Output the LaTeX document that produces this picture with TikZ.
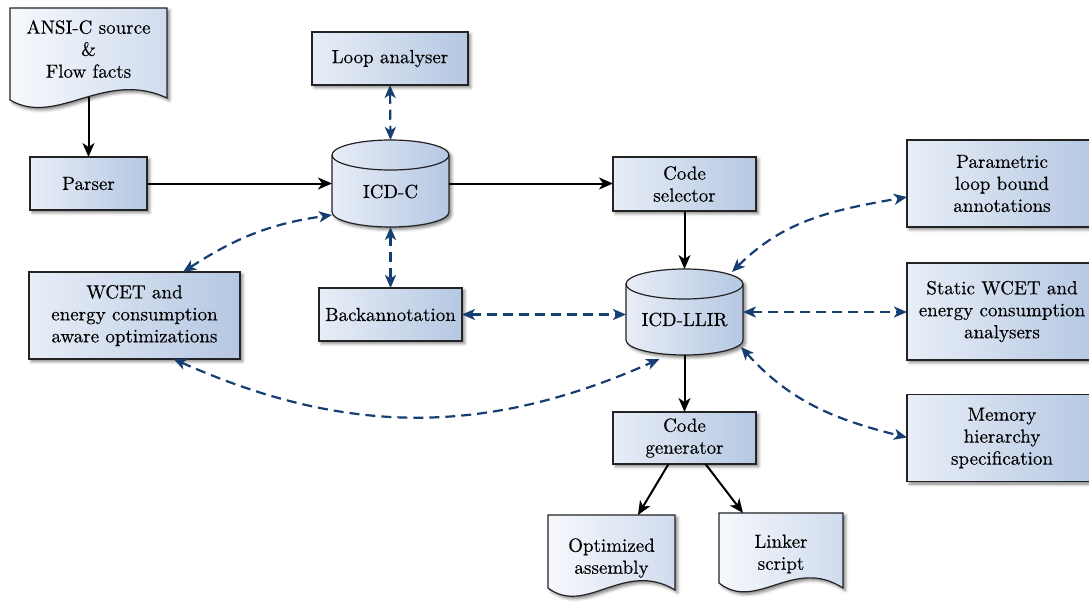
\documentclass[tikz,border=0pt]{standalone}
\usepackage{fontspec}
\setmainfont{lmroman10-regular.otf}[FakeBold=0.3]
\usetikzlibrary{arrows.meta,calc,shadows.blur,backgrounds}
\definecolor{boxl}{RGB}{232,238,247}
\definecolor{boxr}{RGB}{181,199,226}
\definecolor{docl}{RGB}{246,248,252}
\definecolor{docr}{RGB}{208,220,238}
\definecolor{dblue}{RGB}{22,62,112}
\definecolor{edge}{RGB}{35,35,35}
\tikzset{
 x=1pt,y=1pt,
 txt/.style={font=\fontsize{19}{22}\selectfont, align=center, inner sep=0pt, outer sep=0pt},
 myshadow/.style={blur shadow={shadow xshift=2.5pt,shadow yshift=-2.5pt,shadow blur radius=3pt,shadow opacity=50}},
 shadebox/.style={txt, draw=edge, line width=1.2pt, left color=boxl, right color=boxr, myshadow},
 ghost/.style={txt},
 fillshape/.style={draw=edge, line width=1.2pt, left color=boxl, right color=boxr, myshadow},
 docfill/.style={draw=edge, line width=1.2pt, left color=docl, right color=docr, myshadow},
 flow/.style={-{Stealth[length=14pt,width=12pt,inset=4pt]}, line width=2pt},
 link/.style={{Stealth[length=13pt,width=11pt,inset=3.5pt]}-{Stealth[length=13pt,width=11pt,inset=3.5pt]}, line width=2.2pt, draw=dblue, dash pattern=on 10pt off 6pt},
}
\newcommand\cylshape[1]{%
 \path[fillshape] ([yshift=-15pt]#1.north west) -- ([yshift=15pt]#1.south west)
   arc[start angle=180,end angle=360,x radius=58.5pt,y radius=15pt]
   -- ([yshift=-15pt]#1.north east)
   arc[start angle=0,end angle=180,x radius=58.5pt,y radius=15pt] -- cycle;
 \draw[draw=edge, line width=1.2pt] ([yshift=-15pt]#1.north west)
   arc[start angle=180,end angle=360,x radius=58.5pt,y radius=15pt];
}
\newcommand\docshape[3]{%
 \path (#1.north west) ++(0,-#2) coordinate (#1-l);
 \path (#1.north east) ++(0,-#3) coordinate (#1-r);
 \path[docfill] (#1.north west) -- (#1.north east) -- (#1-r)
   .. controls ($(#1-r)!0.4!(#1-l)+(0,30)$) and ($(#1-r)!0.7!(#1-l)+(0,-28)$) .. (#1-l) -- cycle;
}
\begin{document}
\begin{tikzpicture}
\useasboundingbox (0,0) rectangle (1089,-603);

% documents (text nodes)
\node[ghost, minimum width=157pt, minimum height=82pt] (ansi) at (88.5,-49) {ANSI-C source\\\&\\Flow facts};
\node[ghost, minimum width=127pt, minimum height=86pt] (opt) at (611.5,-558) {Optimized\\assembly};
\node[ghost, minimum width=124pt, minimum height=82pt] (linker) at (781,-554) {Linker\\script};

% boxes
\node[shadebox, minimum width=117pt, minimum height=53pt] (parser) at (88.5,-183.5) {Parser};
\node[shadebox, minimum width=156pt, minimum height=53pt] (loop) at (390,-58.5) {Loop analyser};
\node[shadebox, minimum width=143pt, minimum height=54pt] (codesel) at (684.5,-184) {Code\\selector};
\node[shadebox, minimum width=190pt, minimum height=87pt] (param) at (1002,-183.5) {Parametric\\loop bound\\annotations};
\node[shadebox, minimum width=211pt, minimum height=87pt] (wcet) at (134.5,-315.5) {WCET and\\energy consumption\\aware optimizations};
\node[shadebox, minimum width=143pt, minimum height=53pt] (back) at (390.5,-314.5) {Backannotation};
\node[shadebox, minimum width=190pt, minimum height=97pt] (static) at (1002,-311.5) {Static WCET and\\energy consumption\\analysers};
\node[shadebox, minimum width=190pt, minimum height=87pt] (memory) at (1002,-438) {Memory\\hierarchy\\specification};
\node[shadebox, minimum width=143pt, minimum height=52pt] (codegen) at (684.5,-438) {Code\\generator};

% cylinders
\node[ghost, minimum width=117pt, minimum height=87pt, label={[txt,yshift=-8pt]center:ICD-C}] (icdc) at (390.5,-183.5) {};
\node[ghost, minimum width=117pt, minimum height=86pt, label={[txt,yshift=-7.5pt]center:ICD-LLIR}] (llir) at (684.5,-312) {};

\begin{scope}[on background layer]
 \cylshape{icdc}
 \cylshape{llir}
 \docshape{ansi}{92}{90}
 \docshape{opt}{73}{75}
 \docshape{linker}{70}{75}
\end{scope}

% solid flow arrows
\coordinate (ansib) at ([yshift=-89pt]ansi.north);
\draw[flow] (ansib) -- (parser.north);
\draw[flow] (parser.east) -- (icdc.west);
\draw[flow] (icdc.east) -- (icdc.east -| codesel.west);
\draw[flow] (codesel.south) -- (llir.north);
\draw[flow] (llir.south) -- (codegen.north);
\draw[flow] ([xshift=-16pt]codegen.south) -- ([xshift=26.5pt]opt.north);
\draw[flow] ([xshift=21pt]codegen.south) -- ([xshift=-38pt]linker.north);

% dashed bidirectional links
\draw[link] (loop.south) -- (icdc.north);
\draw[link] (icdc.south) -- (back.north);
\draw[link] (back.east) -- (back.east -| llir.west);
\draw[link] (llir.east) -- (llir.east -| static.west);
\draw[link] ([xshift=48.5pt]wcet.north) to[out=33,in=188] ([yshift=-31.5pt]icdc.west);
\coordinate (llirbl) at ([xshift=-25pt,yshift=-4pt]llir.south);
\draw[link] ([xshift=39pt]wcet.south) to[out=-24,in=204] (llirbl);
\coordinate (llirtr) at ([xshift=-11pt,yshift=-3pt]llir.north east);
\draw[link] (llirtr) to[out=45,in=190] ([yshift=-13.5pt]param.west);
\coordinate (llirbr) at ([xshift=-2pt,yshift=8pt]llir.south east);
\draw[link] (llirbr) to[out=-48,in=166] ([yshift=0.5pt]memory.west);
\end{tikzpicture}
\end{document}
